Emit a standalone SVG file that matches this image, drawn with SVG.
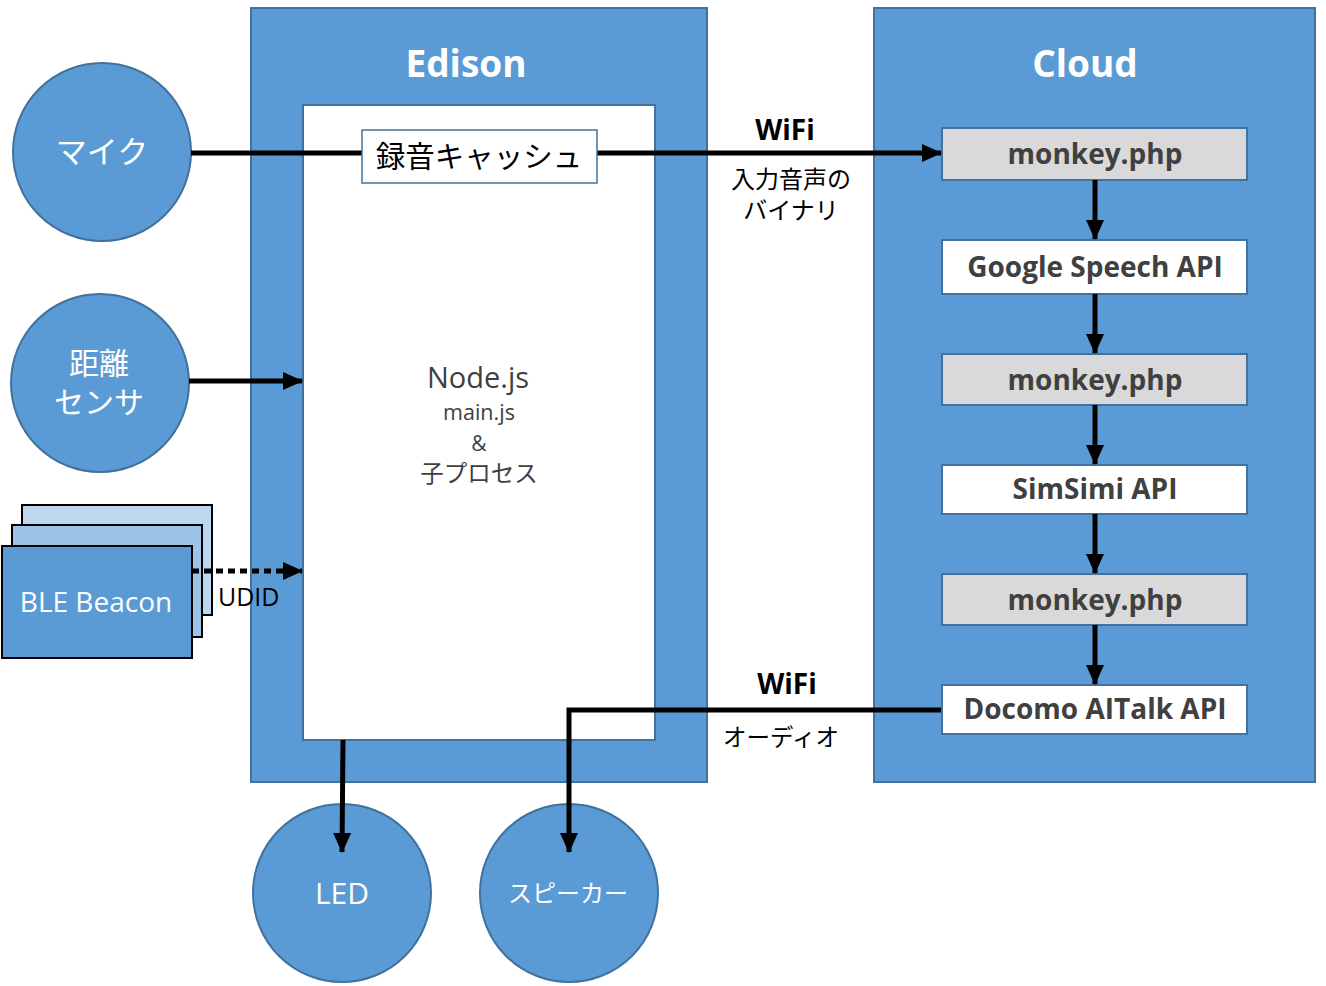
<svg xmlns="http://www.w3.org/2000/svg" width="1326" height="986" viewBox="0 0 1326 986">
<defs>
<marker id="ah" markerUnits="userSpaceOnUse" markerWidth="20" markerHeight="20" viewBox="0 0 20 20" refX="19" refY="10" orient="auto">
<path d="M0,1 L20,10 L0,19 Z" fill="#000"/>
</marker>
<style>
.frame{fill:#5B9BD5;stroke:#41719C;stroke-width:2}
.circ{fill:#5B9BD5;stroke:#41719C;stroke-width:2}
.wt{fill:#fff;font-family:"Open Sans","Noto Sans CJK JP",sans-serif;text-anchor:middle}
.title{fill:#fff;font-family:"Open Sans",sans-serif;font-weight:bold;font-size:37px;text-anchor:middle}
.cbox{stroke:#41719C;stroke-width:2}
.ct{fill:#404040;font-family:"Open Sans",sans-serif;font-weight:bold;font-size:28px;text-anchor:middle}
.bt{fill:#000;font-family:"Open Sans","Noto Sans CJK JP",sans-serif;text-anchor:middle}
.gt{fill:#404040;font-family:"Open Sans","Noto Sans CJK JP",sans-serif;text-anchor:middle}
.ln{stroke:#000;stroke-width:5;fill:none}
</style>
</defs>
<g id="edison">
<rect class="frame" x="251" y="8" width="456" height="774"/>
<rect x="303" y="105" width="352" height="635" fill="#fff" stroke="#41719C" stroke-width="2"/>
<text class="title" x="466" y="77">Edison</text>
<text class="gt" x="478" y="388" font-size="29">Node.js</text>
<text class="gt" x="479" y="420" font-size="21.5">main.js</text>
<text class="gt" x="479" y="451" font-size="21">&amp;</text>
<text class="gt" x="479" y="482" font-size="23.5">子プロセス</text>
</g>
<g id="cloud">
<rect class="frame" x="874" y="8" width="441" height="774"/>
<text class="title" x="1085" y="77">Cloud</text>
</g>
<g id="monkey1">
<rect class="cbox" x="942" y="128" width="305" height="52" fill="#D9D9D9"/>
<text class="ct" x="1095" y="164">monkey.php</text>
</g>
<g id="google">
<rect class="cbox" x="942" y="240" width="305" height="54" fill="#fff"/>
<text class="ct" x="1095" y="277">Google Speech API</text>
</g>
<g id="monkey2">
<rect class="cbox" x="942" y="354" width="305" height="51" fill="#D9D9D9"/>
<text class="ct" x="1095" y="390">monkey.php</text>
</g>
<g id="simsimi">
<rect class="cbox" x="942" y="465" width="305" height="49" fill="#fff"/>
<text class="ct" x="1095" y="499">SimSimi API</text>
</g>
<g id="monkey3">
<rect class="cbox" x="942" y="574" width="305" height="51" fill="#D9D9D9"/>
<text class="ct" x="1095" y="610">monkey.php</text>
</g>
<g id="docomo">
<rect class="cbox" x="942" y="685" width="305" height="49" fill="#fff"/>
<text class="ct" x="1095" y="719">Docomo AITalk API</text>
</g>
<g id="mic">
<circle class="circ" cx="102" cy="152" r="89"/>
<text class="wt" x="102" y="163" font-size="31">マイク</text>
</g>
<g id="sensor">
<circle class="circ" cx="100" cy="383" r="89"/>
<text class="wt" x="99" y="374" font-size="30">距離</text>
<text class="wt" x="99" y="413" font-size="30">センサ</text>
</g>
<g id="beacon">
<rect x="22" y="505" width="190" height="110" fill="#BDD7EE" stroke="#000" stroke-width="2"/>
<rect x="12" y="525" width="190" height="112" fill="#9DC3E6" stroke="#000" stroke-width="2"/>
<rect x="2" y="546" width="190" height="112" fill="#5B9BD5" stroke="#000" stroke-width="2"/>
<text class="wt" x="96" y="612" font-size="28">BLE Beacon</text>
</g>
<g id="led">
<circle class="circ" cx="342" cy="893" r="89"/>
<text class="wt" x="342" y="904" font-size="30">LED</text>
</g>
<g id="speaker">
<circle class="circ" cx="569" cy="893" r="89"/>
<text class="wt" x="568" y="902" font-size="24">スピーカー</text>
</g>
<g id="connectors">
<line class="ln" x1="191" y1="153" x2="362" y2="153"/>
<line class="ln" x1="597" y1="153" x2="941" y2="153" marker-end="url(#ah)"/>
<line class="ln" x1="189" y1="381" x2="302" y2="381" marker-end="url(#ah)"/>
<line class="ln" x1="192" y1="571" x2="302" y2="571" stroke-dasharray="7,5" stroke-width="6" marker-end="url(#ah)"/>
<line class="ln" x1="343" y1="740" x2="342" y2="852" marker-end="url(#ah)"/>
<polyline class="ln" points="941,710 569,710 569,852" marker-end="url(#ah)"/>
<line class="ln" x1="1095" y1="180" x2="1095" y2="239" marker-end="url(#ah)"/>
<line class="ln" x1="1095" y1="294" x2="1095" y2="353" marker-end="url(#ah)"/>
<line class="ln" x1="1095" y1="405" x2="1095" y2="464" marker-end="url(#ah)"/>
<line class="ln" x1="1095" y1="514" x2="1095" y2="573" marker-end="url(#ah)"/>
<line class="ln" x1="1095" y1="625" x2="1095" y2="684" marker-end="url(#ah)"/>
</g>
<g id="cache">
<rect x="362" y="130" width="235" height="53" fill="#fff" stroke="#41719C" stroke-width="1.5"/>
<text class="bt" x="479" y="167" font-size="29.5">録音キャッシュ</text>
</g>
<g id="labels">
<text class="bt" x="785" y="140" font-size="28" font-weight="bold">WiFi</text>
<text class="bt" x="791" y="188" font-size="24">入力音声の</text>
<text class="bt" x="791" y="219" font-size="24">バイナリ</text>
<text class="bt" x="787" y="694" font-size="28" font-weight="bold">WiFi</text>
<text class="bt" x="781" y="746" font-size="23.5">オーディオ</text>
<text x="218" y="606" font-size="25" fill="#000" font-family="Open Sans,sans-serif">UDID</text>
</g>
</svg>
